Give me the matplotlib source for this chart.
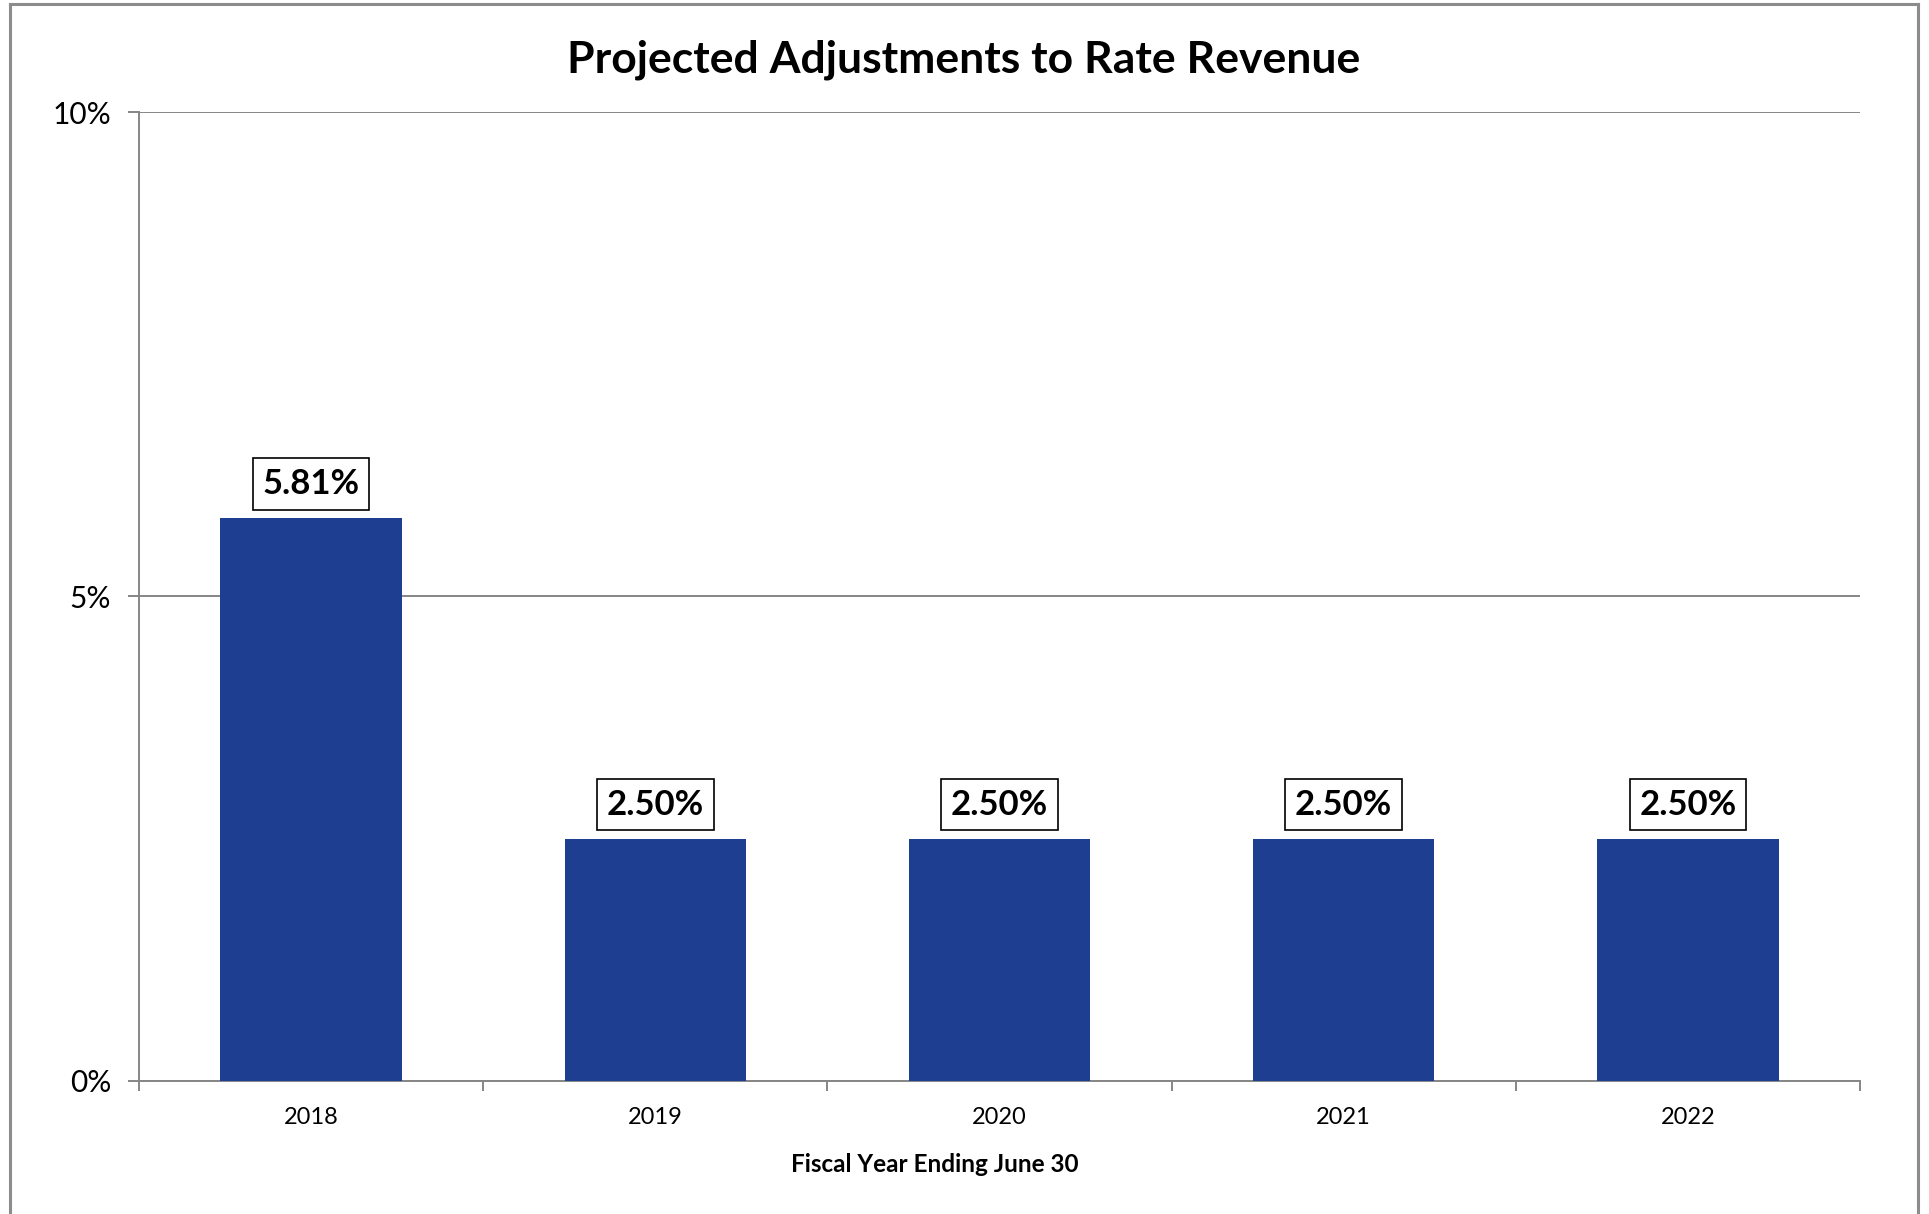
import matplotlib
matplotlib.use("Agg")
import matplotlib.pyplot as plt
from matplotlib.lines import Line2D
from matplotlib.ticker import FuncFormatter, FixedLocator

years = ["2018", "2019", "2020", "2021", "2022"]
rate_adjustments = [5.81, 2.50, 2.50, 2.50, 2.50]
y_ticks = [0, 5, 10]

title = "Projected Adjustments to Rate Revenue"
x_title = "Fiscal Year Ending June 30"

BAR_COLOR = "#1E3F91"
GRID_COLOR = "#868686"
FONT = ["Lato", "DejaVu Sans"]

plt.rcParams["font.family"] = FONT

fig = plt.figure(figsize=(19.29, 12.14), dpi=100)
ax = fig.add_axes([0.07206, 0.10956, 0.89214, 0.79818])

x = list(range(len(years)))
bars = ax.bar(x, rate_adjustments, width=0.527, color=BAR_COLOR, zorder=3)

ax.set_xlim(-0.5, len(years) - 0.5)
ax.set_ylim(0, 10)

# y axis: percent ticks with gray gridlines
ax.yaxis.set_major_locator(FixedLocator(y_ticks))
ax.yaxis.set_major_formatter(FuncFormatter(lambda v, _: f"{v:.0f}%"))
ax.grid(axis="y", color=GRID_COLOR, linewidth=1.4, zorder=0)
ax.tick_params(axis="y", which="major", length=8, width=1.4, color=GRID_COLOR,
               labelsize=21.5, pad=12, labelcolor="black")

# x axis: labels centred under bars, tick marks on category boundaries
ax.set_xticks(x)
ax.set_xticklabels(years)
ax.set_xticks([i - 0.5 for i in range(len(years) + 1)], minor=True)
ax.tick_params(axis="x", which="major", length=0, labelsize=17, pad=19)
ax.tick_params(axis="x", which="minor", length=7, width=1.4, color=GRID_COLOR)

for side in ["top", "right"]:
    ax.spines[side].set_visible(False)
for side in ["left", "bottom"]:
    ax.spines[side].set_color(GRID_COLOR)
    ax.spines[side].set_linewidth(1.4)

ax.set_xlabel(x_title, fontsize=17.5, fontweight="bold")
ax.xaxis.set_label_coords(0.4625, -0.0857)
ax.xaxis.label.set_va("center")

fig.text(0.4997, 0.951, title, fontsize=32, fontweight="bold",
         ha="center", va="center")

# value labels in boxes above each bar
for xi, val in zip(x, rate_adjustments):
    ax.annotate(f"{val:.2f}%", xy=(xi, val), xytext=(0, 13),
                textcoords="offset points", ha="center", va="bottom",
                fontsize=25, fontweight="bold", zorder=5,
                bbox=dict(boxstyle="square,pad=0.28", fc="white",
                          ec="black", lw=1.2))

# outer chart frame (left, top, right edges)
fw, fh = fig.get_size_inches() * fig.dpi
lx, rx, ty = 10 / fw, 1918 / fw, 1 - 4 / fh
frame_kw = dict(color="#8C8C8C", linewidth=2.2, transform=fig.transFigure)
fig.add_artist(Line2D([lx, lx], [0, ty], **frame_kw))
fig.add_artist(Line2D([lx, rx], [ty, ty], **frame_kw))
fig.add_artist(Line2D([rx, rx], [0, ty], **frame_kw))

fig.savefig("out.png", dpi=100, facecolor="white")
